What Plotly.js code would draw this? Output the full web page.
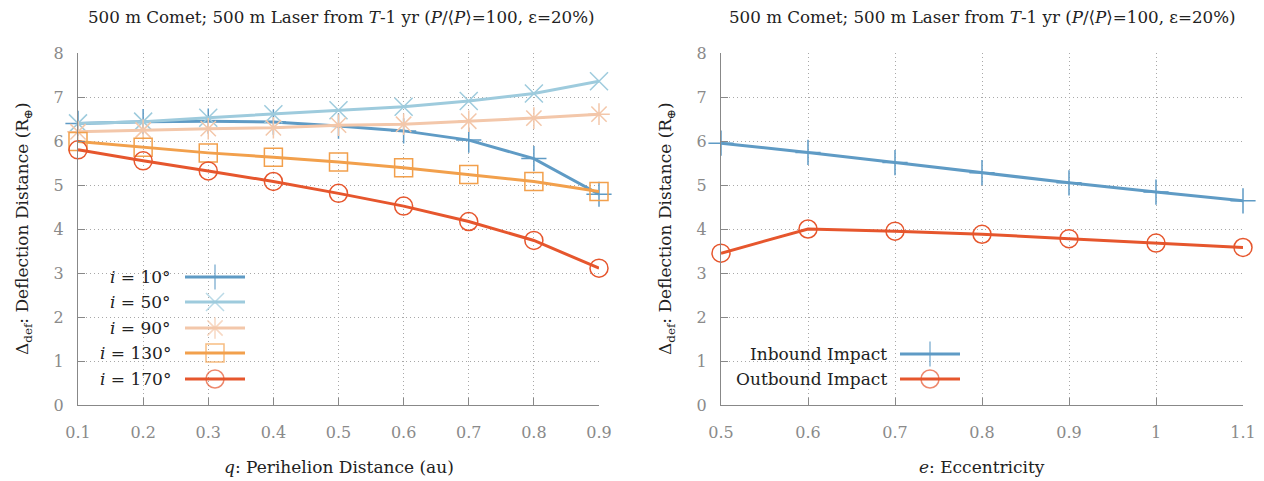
<!DOCTYPE html>
<html>
<head>
<meta charset="utf-8">
<script src="https://cdn.plot.ly/plotly-3.0.1.min.js"></script>
<style>html,body{margin:0;padding:0;background:#fff;}#chart{width:1264px;height:481px;}</style>
</head>
<body>
<div id="chart"></div>
<script>
// ---- data ----
const qValues = [0.1, 0.2, 0.3, 0.4, 0.5, 0.6, 0.7, 0.8, 0.9];
const incl10  = [6.40, 6.44, 6.45, 6.43, 6.34, 6.23, 6.02, 5.60, 4.79];
const incl50  = [6.40, 6.44, 6.53, 6.61, 6.70, 6.78, 6.91, 7.08, 7.36];
const incl90  = [6.21, 6.25, 6.28, 6.30, 6.36, 6.38, 6.45, 6.52, 6.61];
const incl130 = [5.99, 5.86, 5.73, 5.63, 5.52, 5.39, 5.24, 5.08, 4.85];
const incl170 = [5.80, 5.55, 5.32, 5.08, 4.81, 4.52, 4.17, 3.74, 3.11];
const inclLabels = ['10°', '50°', '90°', '130°', '170°'];

const eValues  = [0.5, 0.6, 0.7, 0.8, 0.9, 1.0, 1.1];
const inbound  = [5.95, 5.74, 5.51, 5.28, 5.05, 4.84, 4.64];
const outbound = [3.45, 4.00, 3.95, 3.88, 3.78, 3.68, 3.58];
const impactLabels = ['Inbound Impact', 'Outbound Impact'];

const titleText = '500 m Comet; 500 m Laser from <i>T</i>-1 yr (<i>P</i>/⟨<i>P</i>⟩=100, ε=20%)';

// ---- styles ----
const W = 1264, H = 481;
const serif = 'DejaVu Serif';
const c10 = '#5f9bc5', c50 = '#9ecbdd', c90 = '#f3c7aa', c130 = '#f2a04c', c170 = '#e6562d';
const leftSeries = [
  {y: incl10,  color: c10,  sym: 'cross-thin'},
  {y: incl50,  color: c50,  sym: 'x-thin'},
  {y: incl90,  color: c90,  sym: 'asterisk-open'},
  {y: incl130, color: c130, sym: 'square-open'},
  {y: incl170, color: c170, sym: 'circle-open'}
];
const rightSeries = [
  {y: inbound,  color: c10,  sym: 'cross-thin'},
  {y: outbound, color: c170, sym: 'circle-open'}
];
const MS = 18;

const traces = [];
function mk(s) { return {size: MS, symbol: s.sym, color: s.color, line: {color: s.color, width: 1.5}}; }
leftSeries.forEach(s => traces.push({
  x: qValues, y: s.y, xaxis: 'x', yaxis: 'y', type: 'scatter', mode: 'lines+markers',
  line: {color: s.color, width: 3}, marker: mk(s), cliponaxis: false, showlegend: false, hoverinfo: 'skip'
}));
rightSeries.forEach(s => traces.push({
  x: eValues, y: s.y, xaxis: 'x2', yaxis: 'y2', type: 'scatter', mode: 'lines+markers',
  line: {color: s.color, width: 3}, marker: mk(s), cliponaxis: false, showlegend: false, hoverinfo: 'skip'
}));

// legend keys drawn on a pixel overlay axis
const annotations = [];
function legendRow(x0, yPix, textRight, label, s) {
  traces.push({
    x: [x0, x0 + 30, x0 + 60], y: [yPix, yPix, yPix], xaxis: 'x3', yaxis: 'y3', type: 'scatter',
    mode: 'lines+markers', line: {color: s.color, width: 3},
    marker: {size: [0, MS, 0], symbol: s.sym, color: s.color, line: {color: s.color, width: 1.5}},
    cliponaxis: false, showlegend: false, hoverinfo: 'skip'
  });
  annotations.push({xref: 'x3', yref: 'y3', x: textRight, y: yPix, xanchor: 'right', yanchor: 'middle',
    text: label, showarrow: false, font: {family: serif, size: 17, color: '#222'}});
}
const leftRows = [277, 302, 328, 353, 379];
leftSeries.forEach((s, k) => legendRow(185, leftRows[k], 173, '<i>i</i> = ' + inclLabels[k], s));
const rightRows = [354, 379];
rightSeries.forEach((s, k) => legendRow(900, rightRows[k], 889, impactLabels[k], s));

// titles
const tf = {family: serif, size: 16.7, color: '#222'};
const af = {family: serif, size: 17, color: '#222'};
annotations.push({xref: 'x3', yref: 'y3', x: 341, y: 17, text: titleText, showarrow: false,
  xanchor: 'center', yanchor: 'middle', font: tf});
annotations.push({xref: 'x3', yref: 'y3', x: 982, y: 17, text: titleText, showarrow: false,
  xanchor: 'center', yanchor: 'middle', font: tf});
annotations.push({xref: 'x3', yref: 'y3', x: 339, y: 467, text: '<i>q</i>: Perihelion Distance (au)', showarrow: false,
  xanchor: 'center', yanchor: 'middle', font: af});
annotations.push({xref: 'x3', yref: 'y3', x: 982, y: 467, text: '<i>e</i>: Eccentricity', showarrow: false,
  xanchor: 'center', yanchor: 'middle', font: af});
const yTitle = 'Δ<sub>def</sub>: Deflection Distance (R<sub>⊕</sub>)';
annotations.push({xref: 'x3', yref: 'y3', x: 23, y: 229, text: yTitle, showarrow: false, textangle: -90,
  xanchor: 'center', yanchor: 'middle', font: af});
annotations.push({xref: 'x3', yref: 'y3', x: 666, y: 229, text: yTitle, showarrow: false, textangle: -90,
  xanchor: 'center', yanchor: 'middle', font: af});

const yDom = [(H - 405) / H, (H - 53) / H];
const axBase = {
  showgrid: true, gridcolor: '#a8a8a8', gridwidth: 1, griddash: '1px,3px',
  showline: true, linecolor: '#888', linewidth: 1.2, mirror: false,
  ticks: 'inside', ticklen: 7, tickcolor: '#888', tickwidth: 1,
  tickfont: {family: serif, size: 16, color: '#8a8a8a'}, zeroline: false, fixedrange: true
};
const layout = {
  width: W, height: H, margin: {l: 0, r: 0, t: 0, b: 0},
  paper_bgcolor: '#fff', plot_bgcolor: 'rgba(0,0,0,0)', showlegend: false,
  xaxis: Object.assign({}, axBase, {domain: [78 / W, 599 / W], range: [0.1, 0.9], tick0: 0.1, dtick: 0.1, anchor: 'y', ticklabelstandoff: 13}),
  yaxis: Object.assign({}, axBase, {domain: yDom, range: [0, 8], dtick: 1, anchor: 'x', ticklabelstandoff: 10}),
  xaxis2: Object.assign({}, axBase, {domain: [721 / W, 1243 / W], range: [0.5, 1.1], tick0: 0.5, dtick: 0.1, anchor: 'y2', ticklabelstandoff: 13}),
  yaxis2: Object.assign({}, axBase, {domain: yDom, range: [0, 8], dtick: 1, anchor: 'x2', ticklabelstandoff: 10}),
  xaxis3: {domain: [0, 1], range: [0, W], visible: false, fixedrange: true, anchor: 'y3'},
  yaxis3: {domain: [0, 1], range: [H, 0], visible: false, fixedrange: true, anchor: 'x3'},
  annotations: annotations
};
Plotly.newPlot('chart', traces, layout, {displayModeBar: false, staticPlot: true});
</script>
</body>
</html>
